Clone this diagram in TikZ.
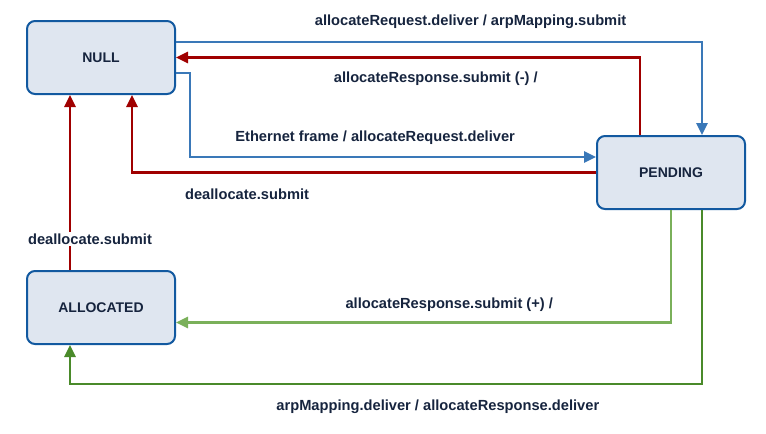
\documentclass[tikz,border=0pt]{standalone}
\usepackage{fontspec}
\setmainfont{Liberation Sans}
\usepackage{tikz}
\usetikzlibrary{positioning, arrows.meta, calc}
\definecolor{boxline}{RGB}{18, 89, 160}
\definecolor{boxfill}{RGB}{223, 230, 240}
\definecolor{reqblue}{RGB}{58, 120, 184}
\definecolor{errred}{RGB}{160, 0, 0}
\definecolor{okgreen}{RGB}{122, 176, 90}
\definecolor{mapgreen}{RGB}{74, 138, 42}
\definecolor{txt}{RGB}{22, 36, 62}

\begin{document}
\begin{tikzpicture}[x=0.75pt, y=-0.75pt,
    state/.style={draw=boxline, line width=1.5pt, rounded corners=6pt, minimum width=111pt, minimum height=54.75pt, fill=boxfill, font=\fontsize{10.5}{12}\selectfont\bfseries, text=txt},
    flow/.style={line width=1.6pt, -{Triangle[length=9pt, width=8.5pt]}},
    lbl/.style={font=\fontsize{11}{13}\selectfont\bfseries, text=txt, inner sep=1pt}
]
\useasboundingbox (0,0) rectangle (766,433);

\node[state] (null) at (101,57.5) {NULL};
\node[state] (pending) at (671,172.5) {PENDING};
\node[state] (allocated) at (101,307.5) {ALLOCATED};

\draw[flow, reqblue] ($(null.east)+(0,-15.5)$) -| node[lbl, pos=0.28, yshift=15pt] {allocateRequest.deliver / arpMapping.submit} ($(pending.north)+(31,0)$);
\draw[flow, errred] ($(pending.north)+(-31,0)$) |- node[lbl, pos=0.72, yshift=-15.75pt] {allocateResponse.submit (-) /} (null.east);
\draw[flow, reqblue] ($(null.east)+(0,15.5)$) -- ++(14,0) |- node[lbl, pos=0.728, yshift=14.25pt] {Ethernet frame / allocateRequest.deliver} ($(pending.west)+(0,-15.5)$);
\draw[flow, errred] (pending.west) -| node[lbl, pos=0.376, yshift=-16.5pt] {deallocate.submit} ($(null.south)+(31,0)$);
\draw[flow, errred] ($(allocated.north)+(-31,0)$) -- node[lbl, pos=0.177, xshift=15pt, fill=white] {deallocate.submit} ($(null.south)+(-31,0)$);
\draw[flow, okgreen] (pending.south) |- node[lbl, pos=0.724, yshift=13.5pt] {allocateResponse.submit (+) /} ($(allocated.east)+(0,15)$);
\draw[flow, mapgreen] ($(pending.south)+(31,0)$) -- ++(0,174) -| node[lbl, pos=0.209, yshift=-17.25pt] {arpMapping.deliver / allocateResponse.deliver} ($(allocated.south)+(-31,0)$);

\end{tikzpicture}
\end{document}
